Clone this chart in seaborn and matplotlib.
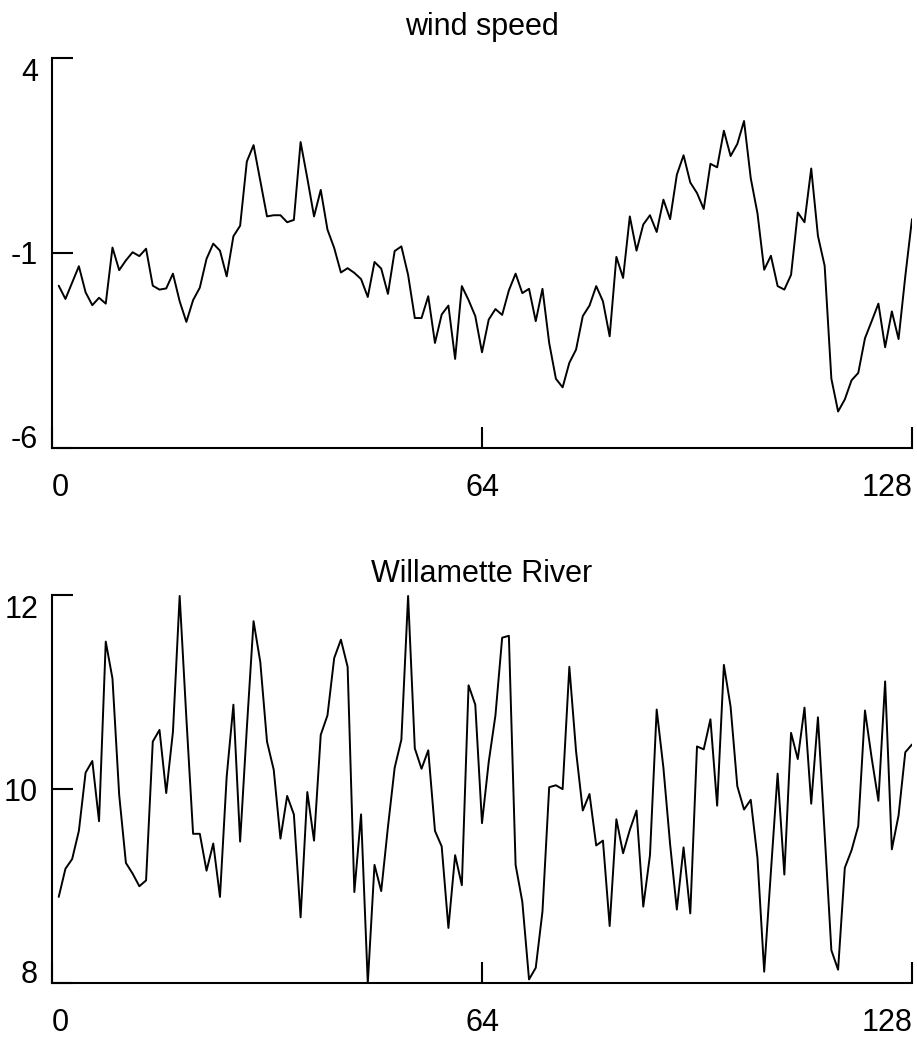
import matplotlib
matplotlib.use("Agg")
import matplotlib.pyplot as plt
import numpy as np
import pandas as pd
import seaborn as sns

time_index = list(range(1, 129))

wind_speed = [
    -1.84, -2.18, -1.76, -1.34, -2.01, -2.34, -2.15, -2.30, -0.86, -1.44,
    -1.19, -0.98, -1.08, -0.89, -1.84, -1.94, -1.91, -1.53, -2.24, -2.77,
    -2.21, -1.89, -1.15, -0.76, -0.94, -1.60, -0.57, -0.30, 1.35, 1.77,
    0.85, -0.06, -0.03, -0.03, -0.21, -0.15, 1.85, 0.92, -0.06, 0.62,
    -0.40, -0.87, -1.50, -1.39, -1.51, -1.67, -2.13, -1.23, -1.40, -2.05,
    -0.95, -0.83, -1.56, -2.67, -2.67, -2.11, -3.31, -2.58, -2.35, -3.72,
    -1.85, -2.21, -2.62, -3.55, -2.71, -2.44, -2.59, -1.96, -1.53, -2.03,
    -1.92, -2.75, -1.92, -3.31, -4.23, -4.45, -3.82, -3.48, -2.62, -2.35,
    -1.85, -2.24, -3.14, -1.10, -1.64, -0.06, -0.94, -0.27, -0.03, -0.46,
    0.37, -0.13, 1.01, 1.51, 0.81, 0.54, 0.13, 1.29, 1.20, 2.14,
    1.49, 1.80, 2.39, 0.92, 0.02, -1.43, -1.07, -1.85, -1.94, -1.56,
    0.04, -0.21, 1.17, -0.56, -1.33, -4.23, -5.07, -4.76, -4.27, -4.08,
    -3.19, -2.75, -2.30, -3.42, -2.50, -3.21, -1.60, -0.13,
]

willamette_river = [
    8.89, 9.18, 9.28, 9.57, 10.17, 10.29, 9.67, 11.52, 11.14, 9.94,
    9.24, 9.13, 9.00, 9.06, 10.49, 10.61, 9.96, 10.59, 11.99, 10.73,
    9.54, 9.54, 9.16, 9.44, 8.89, 10.13, 10.87, 9.46, 10.63, 11.73,
    11.31, 10.49, 10.20, 9.49, 9.93, 9.74, 8.68, 9.97, 9.47, 10.56,
    10.76, 11.35, 11.54, 11.26, 8.94, 9.74, 8.00, 9.22, 8.95, 9.61,
    10.22, 10.51, 11.99, 10.42, 10.21, 10.40, 9.57, 9.41, 8.57, 9.32,
    9.01, 11.07, 10.87, 9.65, 10.28, 10.76, 11.56, 11.58, 9.22, 8.84,
    8.04, 8.16, 8.74, 10.02, 10.04, 10.00, 11.26, 10.39, 9.78, 9.95,
    9.42, 9.47, 8.59, 9.69, 9.34, 9.58, 9.78, 8.79, 9.32, 10.82,
    10.22, 9.43, 8.76, 9.40, 8.72, 10.44, 10.41, 10.72, 9.83, 11.28,
    10.85, 10.03, 9.79, 9.89, 9.29, 8.12, 9.15, 10.16, 9.12, 10.58,
    10.31, 10.84, 9.85, 10.74, 9.53, 8.34, 8.14, 9.19, 9.37, 9.62,
    10.81, 10.32, 9.88, 11.11, 9.38, 9.73, 10.38, 10.46,
]

x_ticks = [0, 64, 128]
wind_ticks = [-6, -1, 4]
river_ticks = [8, 10, 12]
titles = ["wind speed", "Willamette River"]

sns.set_theme(style="white")
plt.rcParams["font.family"] = ["Liberation Sans", "DejaVu Sans"]

W, H = 917, 1038
fig = plt.figure(figsize=(W / 100, H / 100), dpi=100)

left_px, right_px = 52, 912
panels = [
    (wind_speed, wind_ticks, 58.3, 447.7, 35),
    (willamette_river, river_ticks, 595.0, 983.3, 582),
]

for (series, yticks, top_px, bot_px, title_base), title in zip(panels, titles):
    ax = fig.add_axes([left_px / W, 1 - bot_px / H,
                       (right_px - left_px) / W, (bot_px - top_px) / H])
    df = pd.DataFrame({"t": time_index, "v": series})
    sns.lineplot(data=df, x="t", y="v", ax=ax, color="black", linewidth=1.4)
    ax.set_xlim(x_ticks[0], x_ticks[-1])
    ax.set_ylim(yticks[0], yticks[-1])
    ax.set_xticks(x_ticks)
    ax.set_yticks(yticks)
    ax.set_xticklabels([str(t) for t in x_ticks])
    ax.set_yticklabels([str(t) for t in yticks])
    ax.set_xlabel("")
    ax.set_ylabel("")
    for s in ["top", "right"]:
        ax.spines[s].set_visible(False)
    for s in ["left", "bottom"]:
        ax.spines[s].set_linewidth(1.5)
        ax.spines[s].set_color("black")
    ax.tick_params(axis="both", which="major", bottom=True, left=True,
                   top=False, right=False, direction="in", length=15,
                   width=1.5, color="black", labelsize=22, labelcolor="black")
    ax.tick_params(axis="x", pad=18)
    ax.tick_params(axis="y", pad=10)
    xl = ax.get_xticklabels()
    xl[0].set_ha("left")
    xl[-1].set_ha("right")
    yl = ax.get_yticklabels()
    yl[0].set_va("baseline")
    yl[1].set_va("center_baseline")
    yl[-1].set_va("top")
    ax.grid(False)
    fig.text((left_px + right_px) / 2 / W, 1 - title_base / H, title,
             ha="center", va="baseline", fontsize=22, color="black")

fig.savefig("out.png", dpi=100, facecolor="white")
